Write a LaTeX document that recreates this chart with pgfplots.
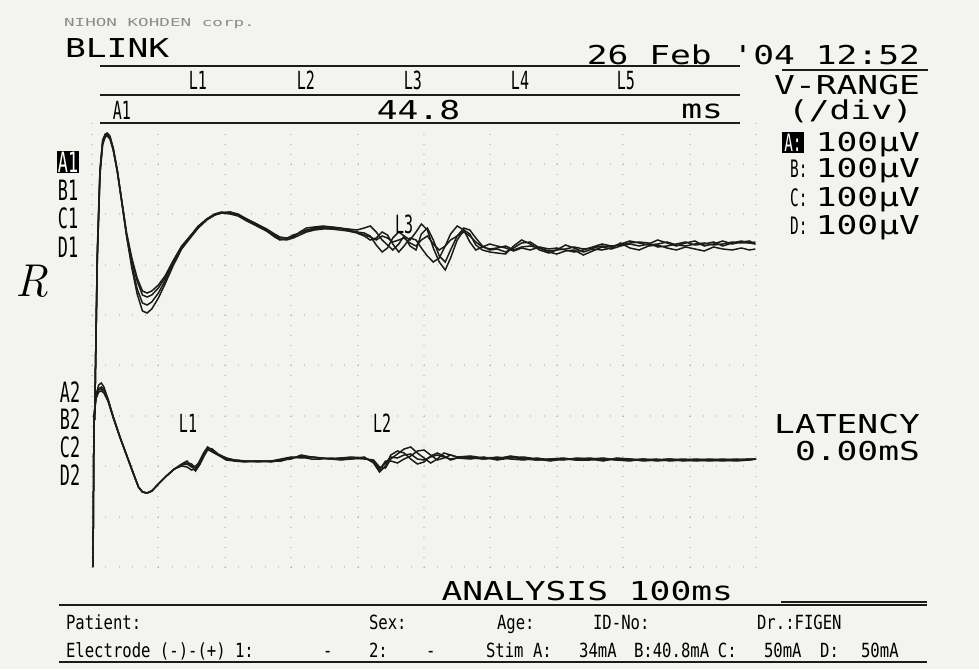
\documentclass[border=0pt]{standalone}
\usepackage{pgfplots}
\pgfplotsset{compat=1.18}
\usepackage{pgfplotstable}
\usepackage{fontspec}
\newfontfamily\pf[FakeStretch=1.33]{DejaVu Sans Mono}
\newfontfamily\cf[FakeStretch=0.6]{DejaVu Sans Mono}
\newfontfamily\rowf[FakeStretch=0.8]{DejaVu Sans Mono}
\newfontfamily\wf[FakeStretch=1.6]{DejaVu Sans Mono}
\definecolor{paper}{RGB}{243,243,240}
\definecolor{ink}{RGB}{28,28,28}
\definecolor{dots}{RGB}{135,135,135}
\newcommand{\prt}{\pf\fontsize{13}{14}\selectfont}
\newcommand{\lab}{\cf\fontsize{12.5}{13}\selectfont}
\newcommand{\chl}{\cf\fontsize{14}{14}\selectfont}
\newcommand{\row}{\rowf\fontsize{9.75}{10}\selectfont}

% upper channel (A1-D1), x in ms, y = height on the sheet
\pgfplotstableread{
x a b c d
0.4 147 147 147 147
0.8 317 312 307 309
1.2 397 395 392 395
1.6 427 425 422 424
2.0 433 432 430 431
2.3 434 433 431 432
2.7 431 430 428 429
3.2 419 418 417 417
3.8 397 397 396 396
4.5 364 365 365 365
5.2 331 332 334 334
6.0 299 302 307 309
6.8 273 278 286 289
7.6 256 264 272 276
8.3 254 262 270 274
9.0 258 265 272 276
10.0 269 274 279 282
11.0 283 286 289 291
12.2 301 303 305 306
13.5 318 319 320 321
14.8 329 330 331 331
16.0 339 340 340 341
17.3 347 348 348 348
18.5 352 353 352 353
19.5 354 355 354 354
20.8 355 354 355 353
22.0 352 352 353 351
23.3 348 347 348 346
24.8 343 342 343 341
26.3 337 336 338 336
27.5 332 331 333 330
28.3 329 328 330 327
29.3 329 327 329 328
30.3 331 329 330 332
31.3 334 332 335 334
32.3 337 335 339 336
33.5 339 337 340 338
34.8 339 338 341 339
36.0 340 338 340 338
37.3 339 337 339 339
38.6 337 336 338 336
39.9 335 335 337 334
41.0 332 334 339 331
41.9 330 331 341 327
42.8 327 322 335 329
43.7 331 315 327 335
44.5 329 319 322 332
45.3 325 329 317 323
46.2 327 335 323 315
47.0 329 331 331 321
47.9 324 321 327 329
48.8 321 317 335 327
49.6 327 333 343 319
50.5 331 339 337 311
51.4 323 327 319 305
52.3 317 311 305 309
53.2 321 305 297 321
54.0 327 317 309 333
55.0 331 331 327 341
56.0 335 339 337 337
56.9 331 337 333 325
57.8 325 329 322 317
58.8 320 321 317 320
59.9 318 317 315 323
61.0 319 318 314 321
62.3 321 315 313 319
63.5 317 319 321 316
64.7 320 324 327 319
66.0 321 325 323 317
67.4 319 319 317 320
68.8 316 315 314 318
70.0 317 313 317 319
71.3 318 316 322 317
72.6 320 317 319 315
74.0 318 312 315 317
75.4 319 316 318 320
76.8 321 320 317 323
78.2 320 318 319 321
79.6 323 321 324 322
81.0 326 323 319 324
82.4 324 321 317 325
83.8 322 323 321 324
85.2 323 327 322 320
86.6 325 324 319 321
88.0 322 321 317 323
89.4 321 324 320 325
90.8 323 326 318 322
92.2 324 321 316 323
93.6 322 323 320 325
95.0 323 326 318 321
96.4 325 323 317 324
97.8 324 325 319 326
99.0 324 326 317 324
99.9 325 323 318 323
}\toptbl

% lower channel (A2-D2)
\pgfplotstableread{
x a b c d
0.15 0 0 0 0
0.3 150 150 150 150
0.6 172 170 168 170
1.0 182 178 175 177
1.4 184 180 176 178
1.8 180 178 174 176
2.4 168 168 166 167
3.2 150 150 149 150
4.2 130 130 130 130
5.2 112 112 112 112
6.2 94 94 94 94
7.0 80 80 80 80
7.6 75 75 75 75
8.3 74 74 74 74
9.0 76 76 76 76
10.0 83 83 83 83
11.2 91 91 91 91
12.4 98 98 98 98
13.5 102 103 101 102
14.3 104 106 100 103
15.0 103 101 97 100
15.6 99 96 98 101
16.2 103 102 106 105
16.8 111 110 114 112
17.4 119 117 120 118
18.1 118 116 117 115
19.0 113 112 112 112
20.2 109 108 109 107
21.5 107 107 106 106
23.0 106 106 105 106
25.0 106 105 106 106
27.0 106 106 106 105
28.5 107 108 106 107
30.0 109 110 109 108
31.5 111 109 110 112
33.0 110 110 108 110
34.5 109 109 108 109
36.0 108 108 109 108
37.5 109 107 108 109
39.0 110 108 109 108
41.0 109 110 108 109
42.4 106 104 107 105
43.3 98 95 100 97
44.2 104 101 99 106
45.0 110 112 108 106
46.0 109 116 113 104
47.0 112 114 118 108
48.0 113 108 120 111
49.0 108 103 114 116
50.0 107 105 109 117
51.0 110 111 104 112
52.0 112 114 108 107
53.0 110 111 114 109
54.0 108 107 112 112
55.0 109 109 110 110
57.0 110 108 111 109
59.0 108 110 109 108
61.0 109 107 108 110
63.0 110 109 111 108
65.0 108 110 109 107
67.0 107 108 107 109
69.0 108 106 108 107
71.0 109 108 107 108
73.0 107 108 109 107
75.0 108 109 108 107
77.0 109 107 106 108
79.0 107 108 109 107
81.0 108 107 108 106
83.0 106 108 107 108
85.0 107 106 108 107
87.0 108 107 106 108
89.0 107 108 107 106
91.0 106 107 108 107
93.0 107 106 107 108
95.0 108 107 106 107
97.0 107 108 107 106
99.0 108 107 108 107
100.0 108 108 108 108
}\bottbl

\begin{document}
\begin{tikzpicture}
\fill[paper] (-46pt,-51pt) rectangle (443.5pt,283.5pt);
\begin{axis}[
    width=332pt, height=222pt, scale only axis,
    xmin=0, xmax=100, ymin=0, ymax=444,
    xtick={0,10,...,100},
    ytick={0,50.4,100.8,151.2,201.6,252,302.4,352.8,403.2},
    xticklabels={}, yticklabels={},
    grid=major,
    x grid style={dots, line width=1pt, dash pattern=on 0.01pt off 5.03pt},
    y grid style={dots, line width=1pt, dash pattern=on 0.01pt off 6.63pt},
    axis line style={draw=none}, tick style={draw=none},
    clip=false,
    every node/.style={inner sep=0pt, text=ink},
]
\addplot[ink, line width=0.75pt] table[x=x, y=a] {\toptbl};
\addplot[ink, line width=0.75pt] table[x=x, y=b] {\toptbl};
\addplot[ink, line width=0.75pt] table[x=x, y=c] {\toptbl};
\addplot[ink, line width=0.75pt] table[x=x, y=d] {\toptbl};
\addplot[ink, line width=0.75pt] table[x=x, y=a] {\bottbl};
\addplot[ink, line width=0.75pt] table[x=x, y=b] {\bottbl};
\addplot[ink, line width=0.75pt] table[x=x, y=c] {\bottbl};
\addplot[ink, line width=0.75pt] table[x=x, y=d] {\bottbl};

% header
\node[anchor=base west, text=black!45] at (axis cs:-5.27,540) {\wf\fontsize{5.5}{6}\selectfont NIHON KOHDEN corp.};
\node[anchor=base west] at (axis cs:-5.12,509) {\prt BLINK};
\node[anchor=base east] at (axis cs:125.75,502) {\prt 26 Feb '04 12:52};
\draw[ink, line width=1pt] (axis cs:1.2,501) -- (axis cs:97.6,501);
\draw[ink, line width=1pt] (axis cs:1.2,472) -- (axis cs:97.6,472);
\draw[ink, line width=1pt] (axis cs:1.2,444) -- (axis cs:97.6,444);
\draw[ink, line width=1pt] (axis cs:103.9,497) -- (axis cs:125.9,497);
\node[anchor=base] at (axis cs:15.96,477) {\lab L1};
\node[anchor=base] at (axis cs:32.2,477) {\lab L2};
\node[anchor=base] at (axis cs:48.34,477) {\lab L3};
\node[anchor=base] at (axis cs:64.46,477) {\lab L4};
\node[anchor=base] at (axis cs:80.42,477) {\lab L5};
\node[anchor=base] at (axis cs:4.5,447) {\lab A1};
\node[anchor=base east] at (axis cs:56.5,447) {\prt 44.8};
\node[anchor=base east] at (axis cs:96.1,448) {\prt ms};

% right panel
\node[anchor=base east] at (axis cs:125.75,472) {\prt V-RANGE};
\node[anchor=base east] at (axis cs:124.7,447) {\prt (/div)};
\node[anchor=base east] at (axis cs:125.75,415) {\prt 100µV};
\node[anchor=base east] at (axis cs:125.75,389) {\prt 100µV};
\node[anchor=base east] at (axis cs:125.75,360) {\prt 100µV};
\node[anchor=base east] at (axis cs:125.75,332) {\prt 100µV};
\node[fill=black, text=white, inner sep=1pt] at (axis cs:105.57,424.5) {\cf\fontsize{12}{12}\selectfont A:};
\node[anchor=base west] at (axis cs:104.07,389) {\cf\fontsize{12}{12}\selectfont B:};
\node[anchor=base west] at (axis cs:104.07,360) {\cf\fontsize{12}{12}\selectfont C:};
\node[anchor=base west] at (axis cs:104.07,332) {\cf\fontsize{12}{12}\selectfont D:};
\node[anchor=base east] at (axis cs:125.75,134) {\prt LATENCY};
\node[anchor=base east] at (axis cs:125.75,107) {\prt 0.00mS};

% channel labels
\node[fill=black, text=white, inner sep=0.6pt] at (axis cs:-3.61,405) {\chl A1};
\node at (axis cs:-3.61,377) {\chl B1};
\node at (axis cs:-3.61,349) {\chl C1};
\node at (axis cs:-3.61,320) {\chl D1};
\node at (axis cs:-3.31,175) {\chl A2};
\node at (axis cs:-3.31,148) {\chl B2};
\node at (axis cs:-3.31,120) {\chl C2};
\node at (axis cs:-3.31,92) {\chl D2};
\node at (axis cs:47,343) {\lab L3};
\node at (axis cs:14.46,144) {\lab L1};
\node at (axis cs:43.7,144) {\lab L2};
\node at (axis cs:-9.04,286) {\itshape\fontsize{23}{23}\selectfont R};

% footer
\node[anchor=base east] at (axis cs:97.6,-33) {\prt ANALYSIS 100ms};
\draw[ink, line width=0.8pt] (axis cs:-4.97,-38) -- (axis cs:125.75,-38);
\draw[ink, line width=0.8pt] (axis cs:103.77,-35) -- (axis cs:125.75,-35);
\node[anchor=base west] at (axis cs:-4.97,-62) {\row Patient:};
\node[anchor=base west] at (axis cs:40.66,-62) {\row Sex:};
\node[anchor=base west] at (axis cs:59.94,-62) {\row Age:};
\node[anchor=base west] at (axis cs:74.4,-62) {\row ID-No:};
\node[anchor=base west] at (axis cs:99.1,-62) {\row Dr.:FIGEN};
\node[anchor=base west] at (axis cs:-4.97,-90) {\row Electrode (-)-(+) 1:};
\node[anchor=base west] at (axis cs:33.73,-90) {\row -};
\node[anchor=base west] at (axis cs:40.66,-90) {\row 2:};
\node[anchor=base west] at (axis cs:49.25,-90) {\row -};
\node[anchor=base west] at (axis cs:58.28,-90) {\row Stim A:};
\node[anchor=base west] at (axis cs:72.3,-90) {\row 34mA};
\node[anchor=base west] at (axis cs:80.57,-90) {\row B:40.8mA};
\node[anchor=base west] at (axis cs:93.2,-90) {\row C:};
\node[anchor=base west] at (axis cs:100.15,-90) {\row 50mA};
\node[anchor=base west] at (axis cs:108.6,-90) {\row D:};
\node[anchor=base west] at (axis cs:114.76,-90) {\row 50mA};
\draw[ink, line width=0.6pt] (axis cs:-4.97,-95) -- (axis cs:125.75,-95);
\end{axis}
\end{tikzpicture}
\end{document}
